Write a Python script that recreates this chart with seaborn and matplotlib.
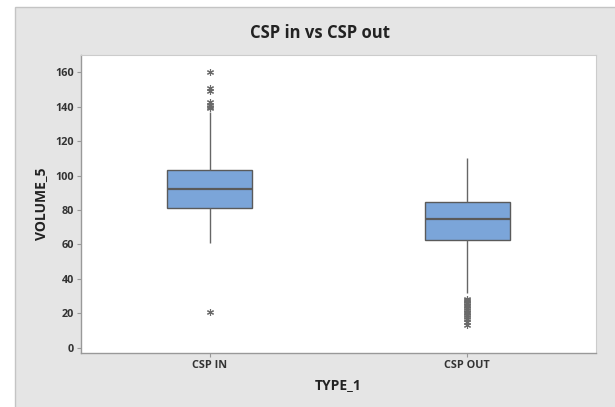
import matplotlib
matplotlib.use("Agg")
import matplotlib.pyplot as plt
import seaborn as sns
import pandas as pd
from matplotlib.patches import Rectangle

categories = ["CSP IN", "CSP OUT"]

csp_in = [21, 61, 66, 70, 73, 75, 77, 78, 79, 80, 81,
          82, 84, 85, 86, 87, 88, 89, 90, 91, 92,
          93, 94, 95, 96, 97, 98, 99, 100, 102, 103.5,
          110, 122, 137, 139, 140, 141, 143, 149, 151, 160]

csp_out = [13, 15, 17, 18, 19, 20, 21, 22, 23, 24, 25, 26, 27, 27.5, 28.5,
           32, 40, 48, 54, 59, 62.5,
           63, 63.5, 64, 65, 65.5, 66, 67, 67.5, 68, 69, 69.5, 70, 71, 71.5, 72, 72.5, 73, 73.5, 74,
           75,
           75.5, 76, 76.5, 77, 77.5, 78, 78.5, 79, 79.5, 80, 80.5, 81, 81.5, 82, 82.5, 83, 83.5, 84, 84.2,
           84.5,
           85, 86, 87, 88, 89, 90, 91, 92, 93, 94, 95, 96, 97, 98, 100, 102, 104, 106, 108, 110]

y_ticks = [0, 20, 40, 60, 80, 100, 120, 140, 160]

df = pd.DataFrame({
    "TYPE_1": [categories[0]] * len(csp_in) + [categories[1]] * len(csp_out),
    "VOLUME_5": csp_in + csp_out,
})

sns.set_theme(style="white")
plt.rcParams["font.family"] = ["Open Sans", "DejaVu Sans"]

fig = plt.figure(figsize=(6.15, 4.07), dpi=100, facecolor="white")
panel = Rectangle((15 / 615, -0.01), 1.0, (407 - 7) / 407 + 0.01, transform=fig.transFigure,
                  facecolor="#e5e5e5", edgecolor="#c4c4c4", linewidth=1.0, zorder=-10)
fig.patches.append(panel)

ax = fig.add_axes([81 / 615, (407 - 353) / 407, (596 - 81) / 615, (353 - 55) / 407])
ax.set_facecolor("white")

edge = "#5a5a5a"
sns.boxplot(data=df, x="TYPE_1", y="VOLUME_5", order=categories, ax=ax,
            width=0.33, color="#7ba5d9", saturation=1, linecolor=edge, linewidth=1.0,
            whis=1.5, showcaps=False,
            whiskerprops=dict(color="#666666", linewidth=1.0),
            medianprops=dict(color=edge, linewidth=1.6),
            flierprops=dict(marker=(6, 2, 0), markersize=5, markeredgecolor="#6a6a6a",
                            markeredgewidth=0.8, markerfacecolor="#6a6a6a"))

ax.set_ylim(-3, 170)
ax.set_xlim(-0.5, 1.5)
ax.set_yticks(y_ticks)
ax.set_yticklabels([str(t) for t in y_ticks], fontsize=7.8, fontweight="bold", color="#333333")
ax.set_xticks([0, 1])
ax.set_xticklabels(categories, fontsize=7.8, fontweight="bold", color="#333333")
ax.tick_params(axis="both", which="major", length=3, width=0.8, color="#999999", pad=2,
               direction="out", bottom=True, left=True)

for side in ["top", "right"]:
    ax.spines[side].set_color("#cccccc")
    ax.spines[side].set_linewidth(0.8)
for side in ["left", "bottom"]:
    ax.spines[side].set_color("#999999")
    ax.spines[side].set_linewidth(1.0)

ax.set_xlabel("TYPE_1", fontsize=10, fontweight="bold", color="#222222", labelpad=5)
ax.set_ylabel("VOLUME_5", fontsize=10, fontweight="bold", color="#222222", labelpad=5)

fig.text(320 / 615, (407 - 33) / 407, "CSP in vs CSP out", ha="center", va="center",
         fontsize=12, fontweight="bold", color="#222222")

fig.savefig("out.png", dpi=100, facecolor=fig.get_facecolor())
